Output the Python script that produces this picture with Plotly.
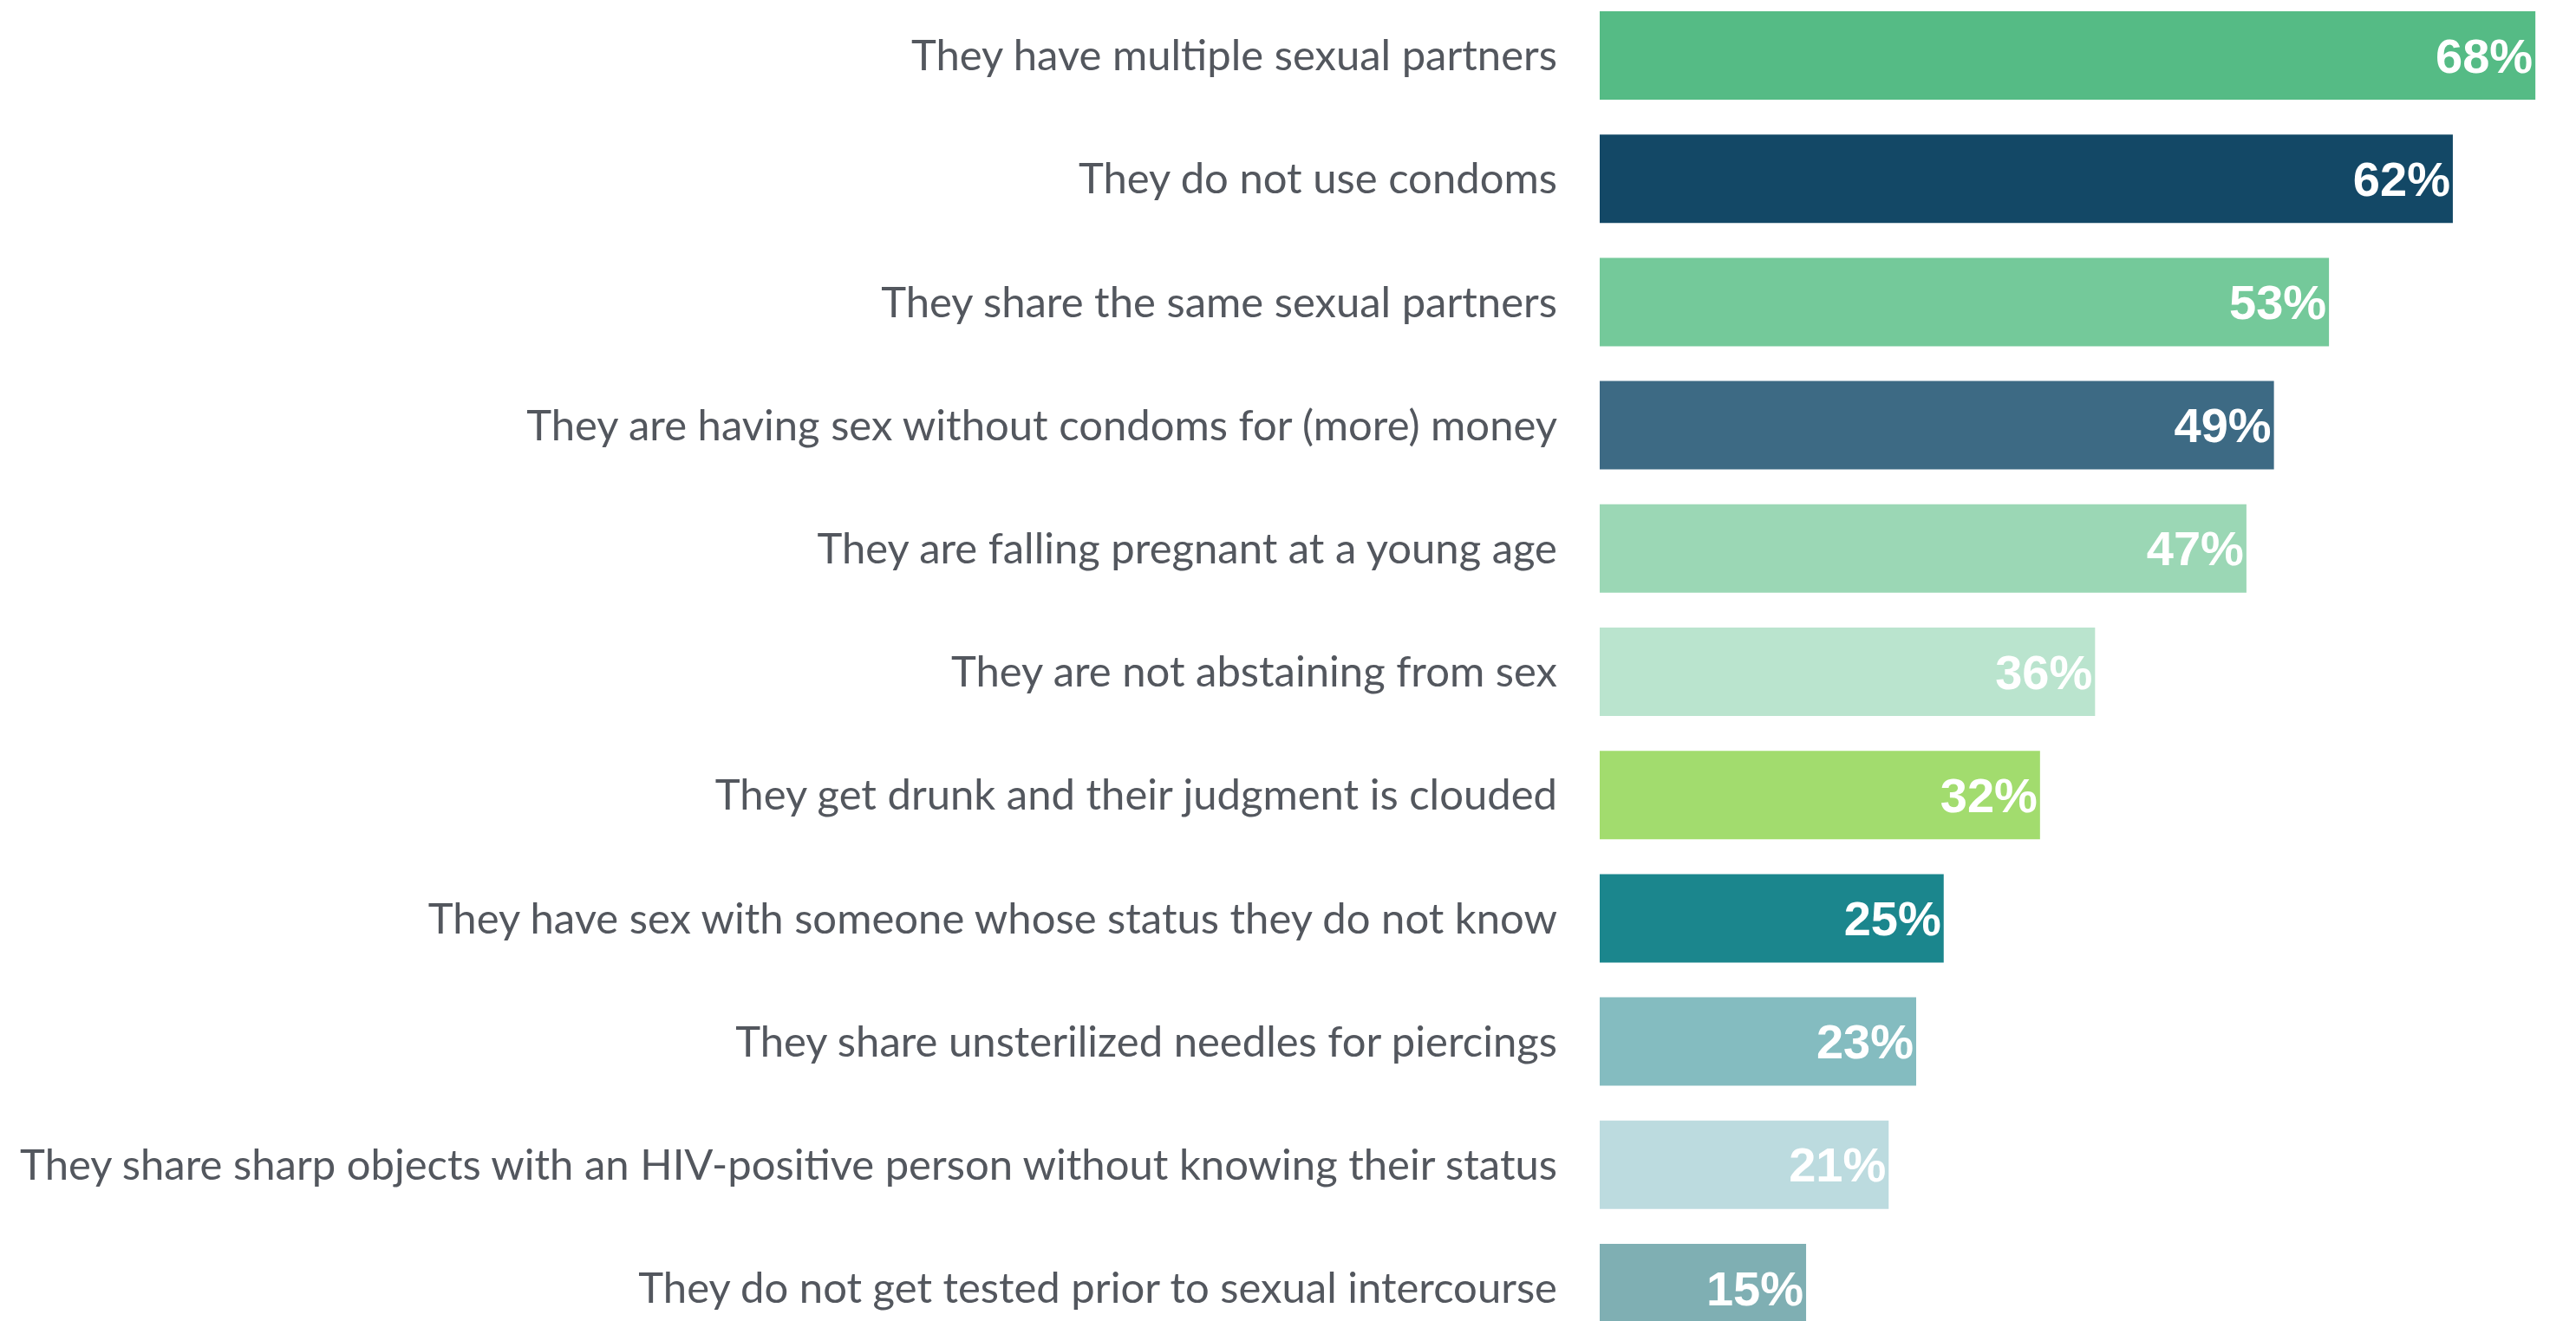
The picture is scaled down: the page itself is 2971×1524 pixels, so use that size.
import plotly.graph_objects as go

# Survey responses: reasons given, share of respondents (%)
reasons = [
    "They have multiple sexual partners",
    "They do not use condoms",
    "They share the same sexual partners",
    "They are having sex without condoms for (more) money",
    "They are falling pregnant at a young age",
    "They are not abstaining from sex",
    "They get drunk and their judgment is clouded",
    "They have sex with someone whose status they do not know",
    "They share unsterilized needles for piercings",
    "They share sharp objects with an HIV-positive person without knowing their status",
    "They do not get tested prior to sexual intercourse",
]
shares = [68, 62, 53, 49, 47, 36, 32, 25, 23, 21, 15]
bar_colors = [
    "#55bb85", "#134866", "#74c99a", "#3d6a84", "#9bd7b5", "#bae4ce",
    "#a2dc6e", "#1b868d", "#84bcc0", "#bcdbdf", "#7fafb3",
]

W, H = 2971, 1524
left = 1845
px_per_pct = 15.87
pitch = 142.2
first_center = 64.0

fig = go.Figure(
    go.Bar(
        x=shares,
        y=reasons,
        orientation="h",
        marker=dict(color=bar_colors, line=dict(width=0)),
        text=[f"{v}%" for v in shares],
        textposition="inside",
        insidetextanchor="end",
        constraintext="none",
        textfont=dict(family="Liberation Sans, Arial, sans-serif", size=56,
                      color="white", weight="bold"),
        cliponaxis=True,
        hoverinfo="skip",
    )
)

top_val = -first_center / pitch
bottom_val = top_val + H / pitch

fig.update_layout(
    width=W,
    height=H,
    margin=dict(l=left, r=0, t=0, b=0, pad=0),
    paper_bgcolor="white",
    plot_bgcolor="white",
    bargap=1 - 102 / pitch,
    showlegend=False,
    xaxis=dict(
        range=[0, (W - left) / px_per_pct],
        visible=False,
        fixedrange=True,
    ),
    yaxis=dict(
        range=[bottom_val, top_val],
        showgrid=False,
        zeroline=False,
        showline=False,
        ticks="",
        ticklabelstandoff=48,
        automargin=False,
        tickfont=dict(family="Lato, sans-serif", size=49, color="#53575e"),
    ),
)

fig.write_html("out.html")
